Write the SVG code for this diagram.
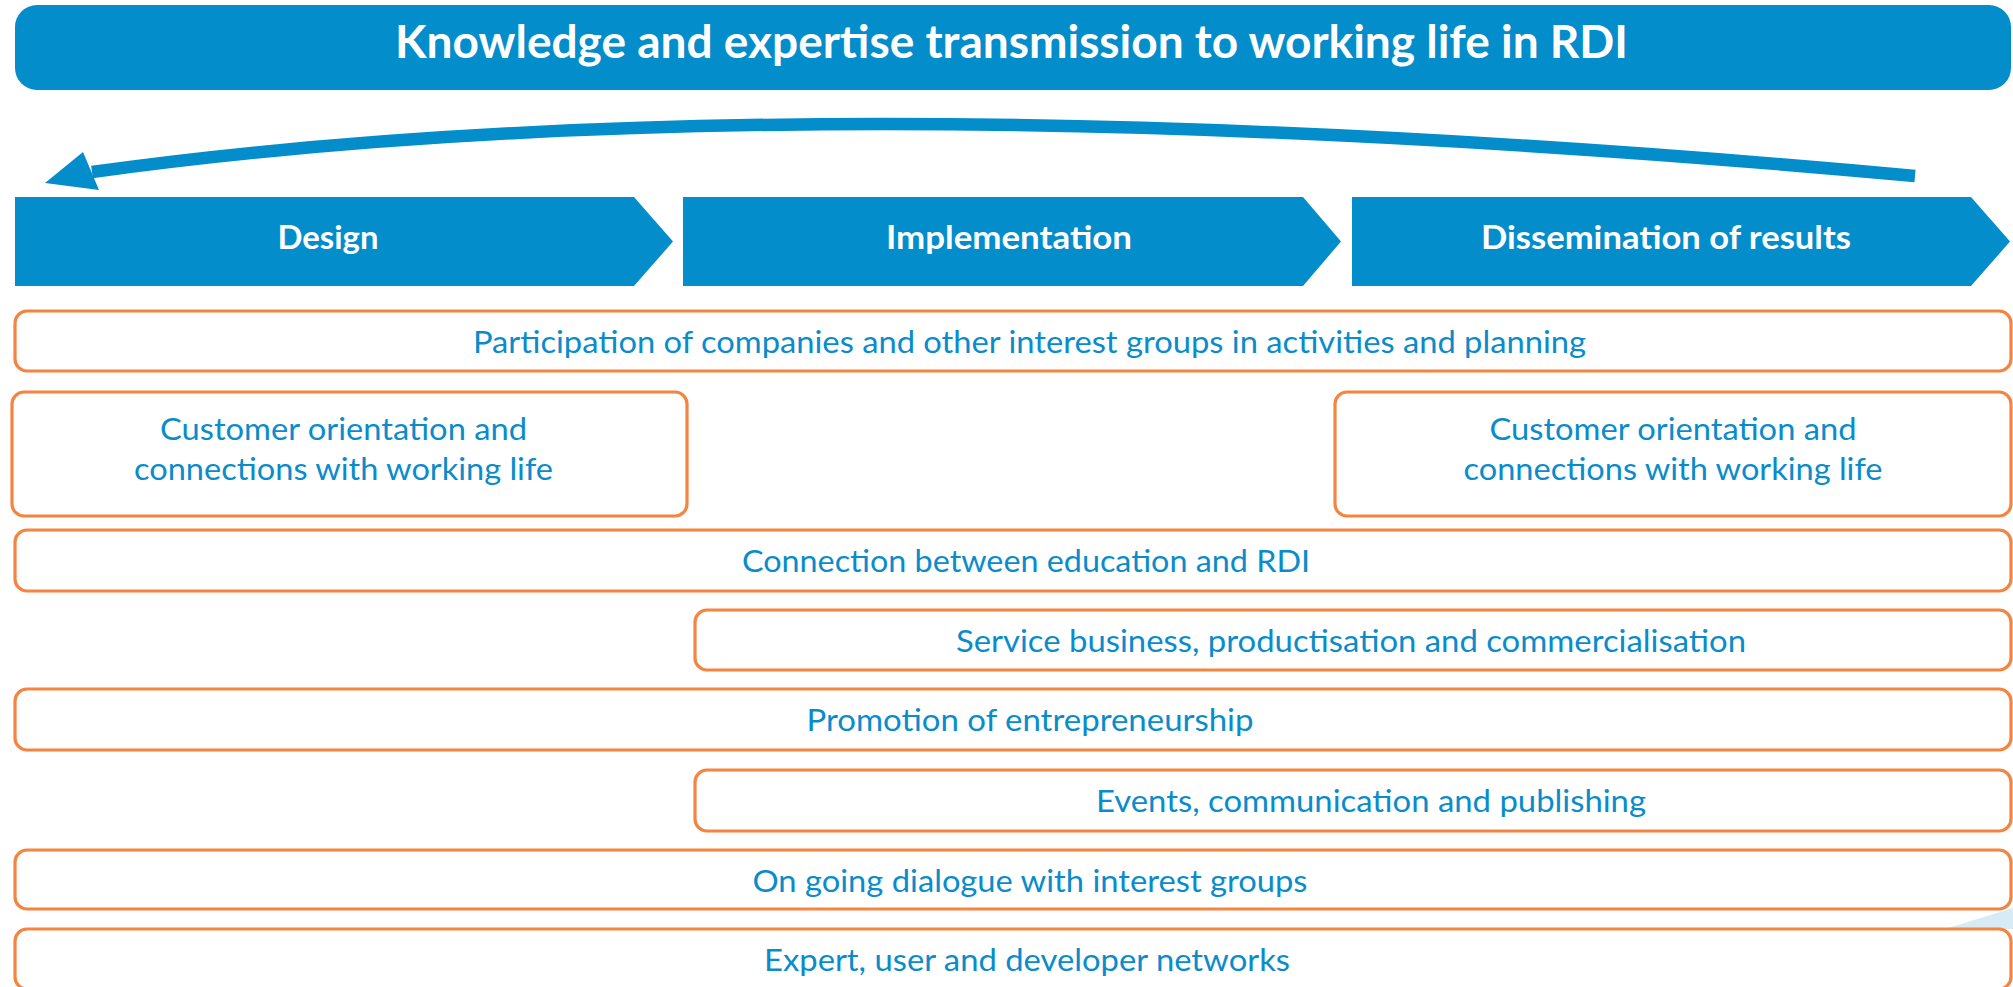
<svg xmlns="http://www.w3.org/2000/svg" width="2013" height="987" viewBox="0 0 2013 987">
<style>
.bar{fill:#038dca}
.box{fill:#ffffff;stroke:#f4843f;stroke-width:3.2}
.ttl{font-family:Lato,"Open Sans",sans-serif;font-weight:bold;fill:#ffffff;text-anchor:middle}
.lbl{font-family:Lato,"Open Sans",sans-serif;font-size:30px;fill:#0a8ccb;text-anchor:middle}
</style>
<rect width="2013" height="987" fill="#ffffff"/>
<polygon points="1945,929 2013,908 2013,929" fill="#d6ebf5"/>
<g id="title">
<rect class="bar" x="15" y="5" width="1996" height="85" rx="22"/>
<text class="ttl" x="1011.5" y="58" font-size="45" textLength="1233" lengthAdjust="spacingAndGlyphs">Knowledge and expertise transmission to working life in RDI</text>
</g>
<g id="connectors">
<path d="M1915,176 Q798,74 92,172" fill="none" stroke="#038dca" stroke-width="12.5"/>
<polygon points="45,183 83,152 99,190" fill="#038dca"/>
</g>
<g id="design">
<polygon class="bar" points="15,197 634,197 673,241.5 634,286 15,286"/>
<text class="ttl" x="328" y="249" font-size="32" textLength="101" lengthAdjust="spacingAndGlyphs">Design</text>
</g>
<g id="implementation">
<polygon class="bar" points="683,197 1303,197 1341,241.5 1303,286 683,286"/>
<text class="ttl" x="1009" y="249" font-size="32" textLength="246" lengthAdjust="spacingAndGlyphs">Implementation</text>
</g>
<g id="dissemination">
<polygon class="bar" points="1352,197 1971,197 2010,241.5 1971,286 1352,286"/>
<text class="ttl" x="1666" y="249" font-size="32" textLength="370" lengthAdjust="spacingAndGlyphs">Dissemination of results</text>
</g>
<g id="participation">
<rect class="box" x="15" y="311" width="1996" height="60" rx="12"/>
<text class="lbl" x="1029.5" y="353" textLength="1113" lengthAdjust="spacingAndGlyphs">Participation of companies and other interest groups in activities and planning</text>
</g>
<g id="customer-left">
<rect class="box" x="12" y="392" width="675" height="124" rx="12"/>
<text class="lbl" x="343.5" y="440" textLength="367" lengthAdjust="spacingAndGlyphs">Customer orientation and</text>
<text class="lbl" x="343.5" y="480" textLength="419" lengthAdjust="spacingAndGlyphs">connections with working life</text>
</g>
<g id="customer-right">
<rect class="box" x="1335" y="392" width="676" height="124" rx="12"/>
<text class="lbl" x="1673" y="440" textLength="367" lengthAdjust="spacingAndGlyphs">Customer orientation and</text>
<text class="lbl" x="1673" y="480" textLength="419" lengthAdjust="spacingAndGlyphs">connections with working life</text>
</g>
<g id="connection">
<rect class="box" x="15" y="530" width="1996" height="61" rx="12"/>
<text class="lbl" x="1026" y="572" textLength="568" lengthAdjust="spacingAndGlyphs">Connection between education and RDI</text>
</g>
<g id="service">
<rect class="box" x="695" y="610" width="1316" height="60" rx="12"/>
<text class="lbl" x="1351" y="652" textLength="790" lengthAdjust="spacingAndGlyphs">Service business, productisation and commercialisation</text>
</g>
<g id="promotion">
<rect class="box" x="15" y="689" width="1996" height="61" rx="12"/>
<text class="lbl" x="1030" y="731" textLength="447" lengthAdjust="spacingAndGlyphs">Promotion of entrepreneurship</text>
</g>
<g id="events">
<rect class="box" x="695" y="770" width="1316" height="61" rx="12"/>
<text class="lbl" x="1371" y="812" textLength="550" lengthAdjust="spacingAndGlyphs">Events, communication and publishing</text>
</g>
<g id="dialogue">
<rect class="box" x="15" y="850" width="1996" height="59" rx="12"/>
<text class="lbl" x="1030" y="892" textLength="555" lengthAdjust="spacingAndGlyphs">On going dialogue with interest groups</text>
</g>
<g id="networks">
<rect class="box" x="15" y="929" width="1996" height="60" rx="12"/>
<text class="lbl" x="1027" y="971" textLength="526" lengthAdjust="spacingAndGlyphs">Expert, user and developer networks</text>
</g>
</svg>
